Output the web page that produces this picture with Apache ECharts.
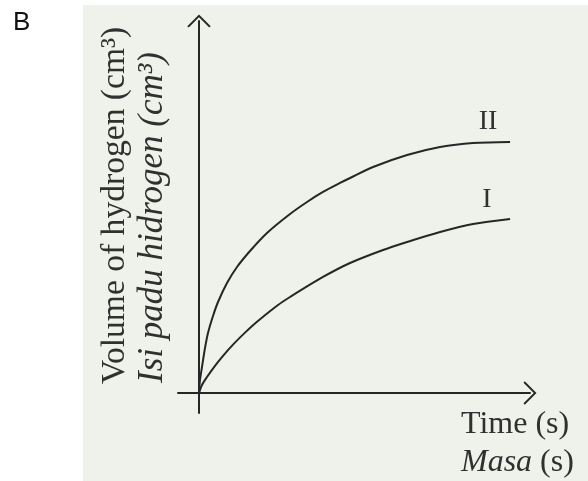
<!DOCTYPE html>
<html>
<head>
<meta charset="utf-8">
<script src="https://cdn.jsdelivr.net/npm/echarts@6/dist/echarts.min.js"></script>
<style>
html,body{margin:0;padding:0;background:#ffffff;}
#chart{width:588px;height:481px;}
</style>
</head>
<body>
<div id="chart"></div>
<script>
// Curve I (slower reaction)
const curveITime   = [0, 0.96, 2.57, 5.14, 7.72, 10.93, 14.79, 18.65, 25.40, 29.26, 39.87, 48.55, 59.16, 66.88, 77.49, 88.10, 100];
const curveIVolume = [0, 3.19, 6.37, 10.84, 14.82, 19.28, 24.06, 28.37, 35.06, 38.25, 46.22, 51.79, 56.97, 60.16, 64.14, 67.33, 69.32];
// Curve II (faster reaction)
const curveIITime   = [0, 0.32, 0.96, 1.93, 2.89, 4.50, 6.11, 9.00, 12.22, 16.40, 21.86, 29.26, 34.73, 39.87, 45.34, 48.55, 55.95, 66.88, 77.49, 88.10, 100];
const curveIIVolume = [0, 5.18, 10.36, 17.93, 23.90, 30.68, 36.25, 43.82, 50.20, 56.57, 63.75, 71.31, 76.10, 80.08, 83.67, 85.66, 90.04, 94.82, 98.01, 99.60, 100];
const curveNames = ['I', 'II'];

const serif = '"Liberation Serif", "DejaVu Serif", serif';
const ink = '#262626';
const textInk = '#303030';

function pairs(xs, ys) { return xs.map((x, i) => [x, ys[i]]); }

const chevron = 'path://M0,12 L12,0 L24,12 L22.5,13.3 L12,2.8 L1.5,13.3 Z';

const chart = echarts.init(document.getElementById('chart'), null, {renderer: 'canvas'});
chart.setOption({
  animation: false,
  backgroundColor: '#ffffff',
  grid: {left: 178, right: 58, top: 21, bottom: 68, containLabel: false},
  xAxis: {
    type: 'value', min: -6.75, max: 106.4,
    axisLine: {show: true, onZero: true, lineStyle: {color: ink, width: 2},
      symbol: ['none', chevron], symbolSize: [24, 13]},
    axisTick: {show: false}, axisLabel: {show: false}, splitLine: {show: false}
  },
  yAxis: {
    type: 'value', min: -7.97, max: 148.2,
    axisLine: {show: true, onZero: true, lineStyle: {color: ink, width: 2},
      symbol: ['none', chevron], symbolSize: [24, 13]},
    axisTick: {show: false}, axisLabel: {show: false}, splitLine: {show: false}
  },
  graphic: [
    {type: 'rect', z: -10, silent: true, shape: {x: 83, y: 5, width: 505, height: 476},
      style: {fill: '#eff2ea'}},
    {type: 'text', left: 13, top: 10, style: {text: 'B', font: '26px "Liberation Sans", Arial, sans-serif', fill: '#111'}},
    {type: 'text', x: 115, y: 384, rotation: Math.PI / 2,
      style: {text: 'Volume of hydrogen (cm³)', font: '33.6px ' + serif, fill: textInk,
        textAlign: 'left', textVerticalAlign: 'middle'}},
    {type: 'text', x: 153, y: 383, rotation: Math.PI / 2,
      style: {text: 'Isi padu hidrogen (cm³)', font: 'italic 35px ' + serif, fill: textInk,
        textAlign: 'left', textVerticalAlign: 'middle'}},
    {type: 'text', x: 461, y: 425,
      style: {text: 'Time (s)', font: '32px ' + serif, fill: textInk, textAlign: 'left', textVerticalAlign: 'middle'}},
    {type: 'text', x: 461, y: 463,
      style: {text: '{i|Masa} (s)', font: '32px ' + serif, fill: textInk, textAlign: 'left', textVerticalAlign: 'middle',
        rich: {i: {font: 'italic 32px ' + serif, fill: textInk}}}},
    {type: 'text', x: 488, y: 122,
      style: {text: curveNames[1], font: '28px ' + serif, fill: textInk, textAlign: 'center', textVerticalAlign: 'middle'}},
    {type: 'text', x: 487, y: 200,
      style: {text: curveNames[0], font: '28px ' + serif, fill: textInk, textAlign: 'center', textVerticalAlign: 'middle'}}
  ],
  series: [
    {name: curveNames[0], type: 'line', data: pairs(curveITime, curveIVolume), smooth: 0.3,
      showSymbol: false, symbol: 'none', lineStyle: {color: ink, width: 2}},
    {name: curveNames[1], type: 'line', data: pairs(curveIITime, curveIIVolume), smooth: 0.3,
      showSymbol: false, symbol: 'none', lineStyle: {color: ink, width: 2}}
  ]
});
</script>
</body>
</html>
